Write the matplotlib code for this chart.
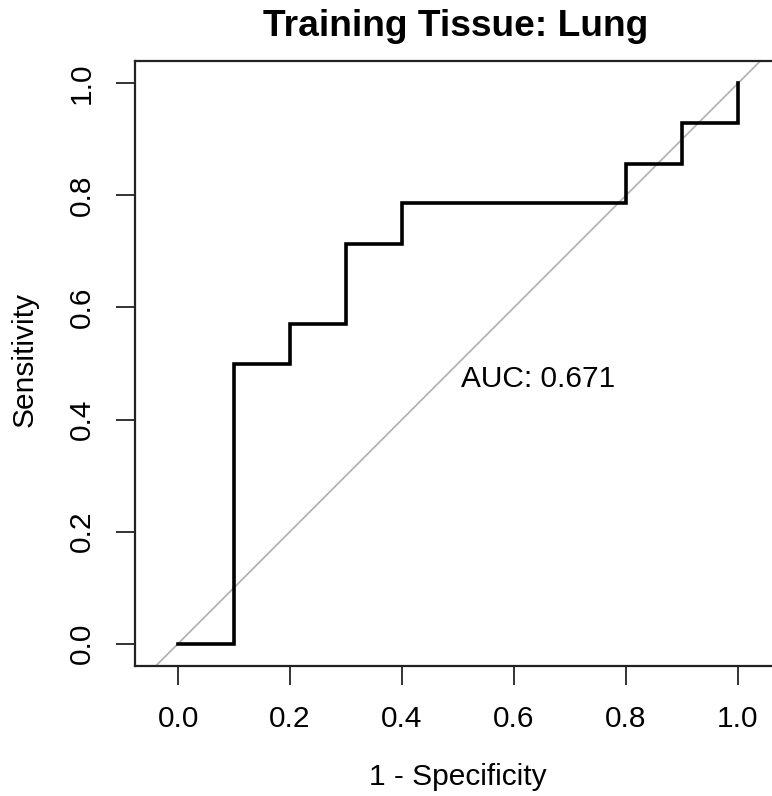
import matplotlib
matplotlib.use("Agg")
import matplotlib.pyplot as plt

plt.rcParams['font.family'] = ['Liberation Sans', 'DejaVu Sans']

# ROC curve points (1 - specificity, sensitivity)
fpr = [0.0, 0.1, 0.1, 0.2, 0.2, 0.3, 0.3, 0.4, 0.4, 0.8, 0.8, 0.9, 0.9, 1.0, 1.0]
tpr = [0.0, 0.0, 0.5, 0.5, 0.571, 0.571, 0.714, 0.714, 0.786, 0.786,
       0.857, 0.857, 0.929, 0.929, 1.0]
ticks = [0.0, 0.2, 0.4, 0.6, 0.8, 1.0]
auc_text = "AUC: 0.671"

W, H = 772, 796
fig = plt.figure(figsize=(W / 100, H / 100), dpi=100)
# axes box in pixels: left 135, right 781 (clipped), top 61, bottom 666
ax = fig.add_axes([135 / W, (H - 666) / H, (781 - 135) / W, (666 - 61) / H])
ax.set_xlim(-0.077, 1.077)
ax.set_ylim(-0.04, 1.04)

ax.axline((0, 0), (1, 1), color='#b4b4b4', lw=1.3, zorder=1)
ax.plot(fpr, tpr, color='black', lw=2.6, solid_joinstyle='miter', zorder=2)

fs = 21.5
ax.text(0.5055, 0.473, auc_text, fontsize=fs, ha='left', va='center')

for s in ax.spines.values():
    s.set_linewidth(1.6)
    s.set_color('#222222')

ax.set_xticks(ticks)
ax.set_yticks(ticks)
ax.set_xticklabels([f"{t:.1f}" for t in ticks], fontsize=fs)
ax.set_yticklabels([f"{t:.1f}" for t in ticks], fontsize=fs,
                   rotation=90, va='center')
ax.tick_params(length=14, width=1.4, color='#333333', pad=14)

fig.text(456 / W, 1 - 27 / H, "Training Tissue: Lung", fontsize=26.7,
         fontweight='bold', ha='center', va='center')
fig.text(458 / W, 1 - 777 / H, "1 - Specificity", fontsize=fs,
         ha='center', va='center')
fig.text(25 / W, 1 - 360 / H, "Sensitivity", fontsize=fs,
         ha='center', va='center', rotation=90)

fig.savefig("out.png", dpi=100)
